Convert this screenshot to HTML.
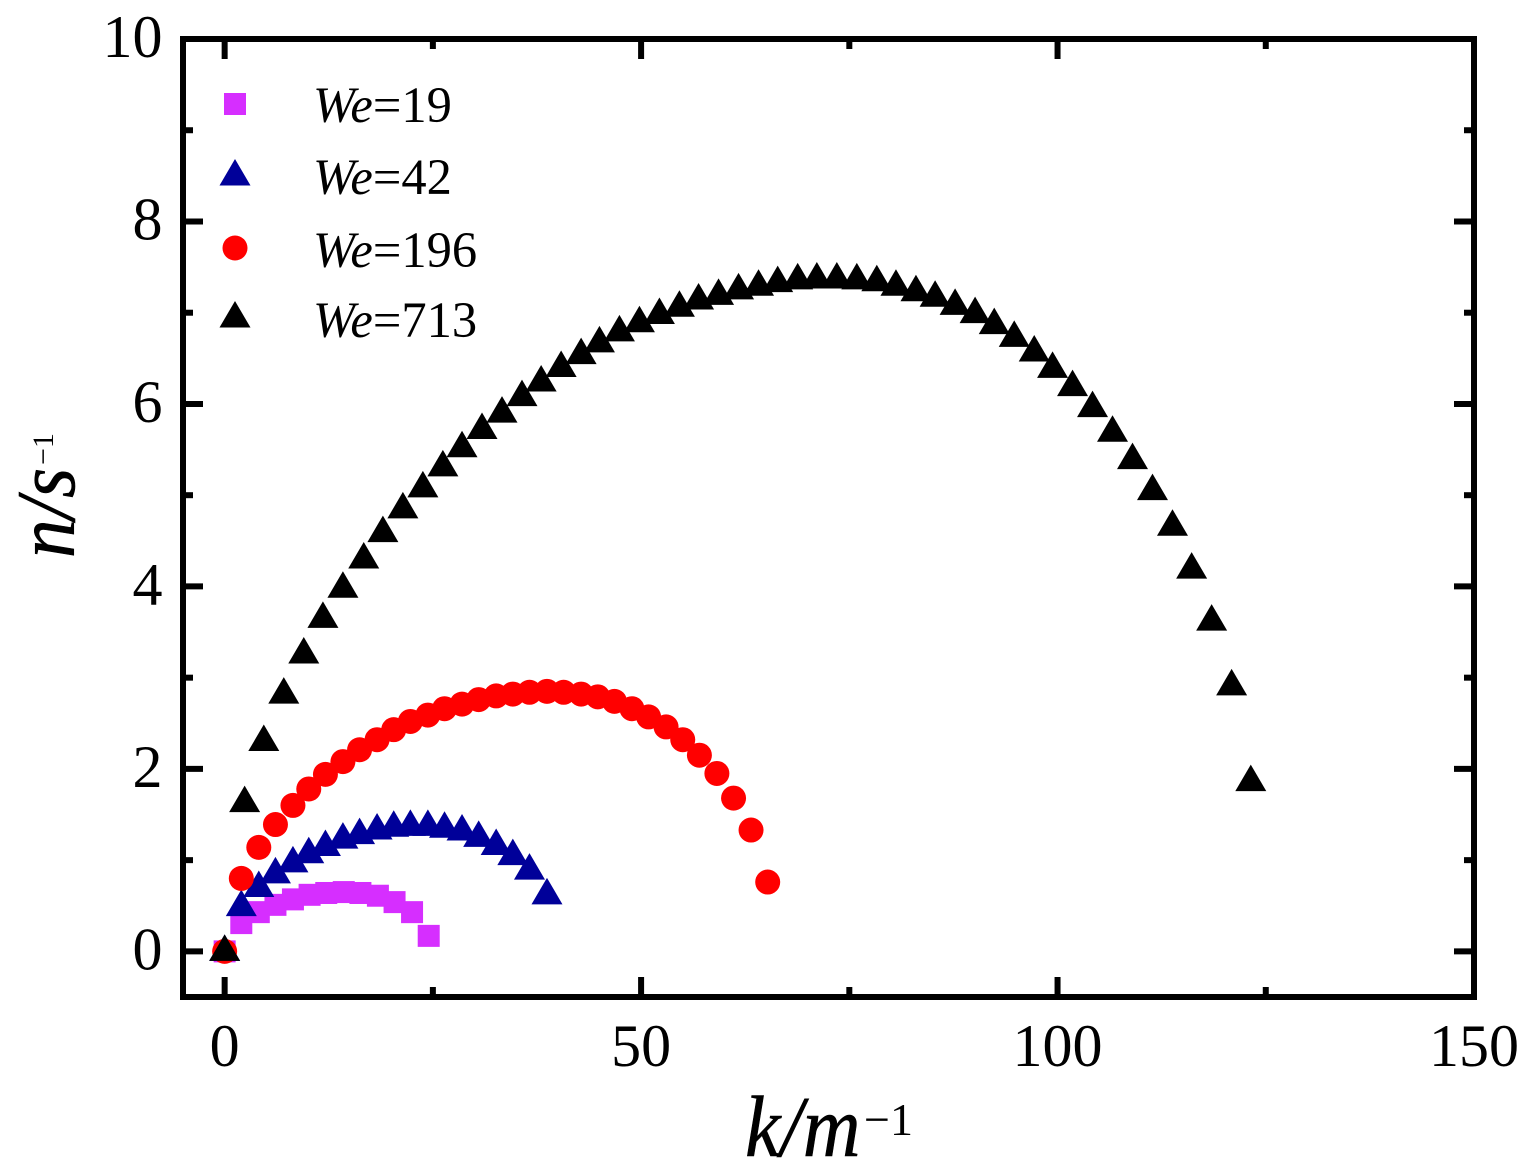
<!DOCTYPE html>
<html>
<head>
<meta charset="utf-8">
<style>
html,body{margin:0;padding:0;background:#fff;}
svg{display:block;font-family:"Liberation Serif","Times New Roman",serif;fill:#000;}
</style>
</head>
<body>
<svg id="chart" xmlns="http://www.w3.org/2000/svg" width="1531" height="1175" viewBox="0 0 1531 1175">
  <rect x="0" y="0" width="1531" height="1175" fill="#fff"/>
  <g id="marks"></g>
  <g id="axes"></g>
  <g id="legend"></g>
  <text transform="translate(745,1156) scale(0.92,1)" font-size="87" font-style="italic" stroke="#000" stroke-width="0.6">k/m</text>
  <text x="864" y="1135" font-size="46">&#8722;1</text>
  <text transform="translate(74,558) rotate(-90) scale(0.92,1)" font-size="84" font-style="italic" stroke="#000" stroke-width="0.6">n/s</text>
  <text transform="translate(53,465) rotate(-90)" font-size="30">&#8722;1</text>
</svg>
<script>
const xTickLabels = [0, 50, 100, 150];
const xMinorTicks = [25, 75, 125];
const yTickLabels = [0, 2, 4, 6, 8, 10];
const yMinorTicks = [1, 3, 5, 7, 9];

const k19 = [0,2.0,4.1,6.1,8.2,10.2,12.2,14.3,16.3,18.4,20.4,22.5,24.5];
const n19 = [0,.31,.43,.51,.57,.62,.64,.65,.64,.61,.54,.43,.17];

const k42 = [0,2.0,4.1,6.1,8.2,10.1,12.1,14.2,16.2,18.3,20.3,22.3,24.4,26.4,28.5,30.5,32.6,34.6,36.6,38.7];
const n42 = [0,.49,.70,.85,.97,1.07,1.15,1.23,1.28,1.33,1.36,1.37,1.37,1.35,1.32,1.25,1.16,1.05,.89,.62];

const k196 = [0,2.0,4.1,6.1,8.2,10.1,12.1,14.2,16.2,18.3,20.3,22.3,24.4,26.4,28.5,30.5,32.6,34.6,36.6,38.7,40.7,42.8,44.8,46.8,48.9,50.9,53.0,55.0,57.0,59.1,61.1,63.2,65.2];
const n196 = [0,.80,1.14,1.39,1.60,1.78,1.94,2.08,2.21,2.32,2.43,2.52,2.59,2.66,2.71,2.76,2.80,2.82,2.84,2.85,2.84,2.82,2.79,2.74,2.66,2.57,2.46,2.32,2.15,1.95,1.68,1.33,.76];

const k713 = [0,2.4,4.7,7.1,9.5,11.8,14.2,16.7,19.0,21.4,23.8,26.2,28.5,30.9,33.3,35.7,38.0,40.4,42.8,45.0,47.4,49.8,52.2,54.6,56.9,59.3,61.7,64.1,66.4,68.8,71.1,73.5,75.9,78.3,80.6,83.0,85.3,87.7,90.1,92.4,94.8,97.2,99.4,101.8,104.2,106.6,109.0,111.4,113.8,116.1,118.5,120.9,123.2];
const n713 = [0,1.63,2.30,2.82,3.26,3.65,3.98,4.30,4.59,4.85,5.08,5.31,5.52,5.72,5.90,6.08,6.24,6.40,6.54,6.67,6.79,6.89,6.98,7.06,7.14,7.19,7.25,7.29,7.33,7.36,7.37,7.37,7.36,7.34,7.29,7.23,7.17,7.08,6.99,6.87,6.73,6.57,6.39,6.19,5.96,5.69,5.39,5.05,4.66,4.19,3.62,2.91,1.86];

const seriesNames = ["We=19", "We=42", "We=196", "We=713"];

const NS = "http://www.w3.org/2000/svg";
const frame = {left: 183, right: 1474, top: 39, bottom: 997};
const xDomain = [-5, 150];
const yDomain = [-0.5, 10];
function xScale(v) {
  return frame.left + (v - xDomain[0]) / (xDomain[1] - xDomain[0]) * (frame.right - frame.left);
}
function yScale(v) {
  return frame.bottom - (v - yDomain[0]) / (yDomain[1] - yDomain[0]) * (frame.bottom - frame.top);
}
function make(tag, attrs, parent) {
  const el = document.createElementNS(NS, tag);
  for (const key in attrs) el.setAttribute(key, attrs[key]);
  parent.appendChild(el);
  return el;
}
function drawMarker(shape, cx, cy, color, parent) {
  if (shape === "square") {
    return make("rect", {x: cx - 11, y: cy - 11, width: 22, height: 22, fill: color}, parent);
  }
  if (shape === "circle") {
    return make("circle", {cx: cx, cy: cy, r: 12.5, fill: color}, parent);
  }
  const pts = [[cx, cy - 17], [cx + 15.5, cy + 9.5], [cx - 15.5, cy + 9.5]];
  return make("polygon", {points: pts.map(p => p.join(",")).join(" "), fill: color}, parent);
}

const marks = document.getElementById("marks");
const axes = document.getElementById("axes");
const legend = document.getElementById("legend");

function drawSeries(name, shape, color, xs, ys) {
  const g = make("g", {}, marks);
  
  
  xs.forEach(function (x, i) {
    const m = drawMarker(shape, xScale(x), yScale(ys[i]), color, g);
    
    
  });
}
drawSeries("we-19", "square", "#d62eff", k19, n19);
drawSeries("we-42", "triangle", "#000099", k42, n42);
drawSeries("we-196", "circle", "#ff0000", k196, n196);
drawSeries("we-713", "triangle", "#000000", k713, n713);

function tickLine(x1, y1, x2, y2, name) {
  const t = make("line", {x1: x1, y1: y1, x2: x2, y2: y2, stroke: "#000", "stroke-width": 6}, axes);
  
  
}
const MAJOR = 20, MINOR = 10;
xTickLabels.forEach(function (v) {
  const x = xScale(v);
  tickLine(x, frame.bottom, x, frame.bottom - MAJOR, "x-major-tick");
  tickLine(x, frame.top, x, frame.top + MAJOR, "x-major-tick-top");
  const t = make("text", {x: x, y: 1066, "text-anchor": "middle", "font-size": 60}, axes);
  t.textContent = v;
  
  
});
xMinorTicks.forEach(function (v) {
  const x = xScale(v);
  tickLine(x, frame.bottom, x, frame.bottom - MINOR, "x-minor-tick");
  tickLine(x, frame.top, x, frame.top + MINOR, "x-minor-tick-top");
});
yTickLabels.forEach(function (v) {
  const y = yScale(v);
  tickLine(frame.left, y, frame.left + MAJOR, y, "y-major-tick");
  tickLine(frame.right, y, frame.right - MAJOR, y, "y-major-tick-right");
  const t = make("text", {x: 162.5, y: y + 18, "text-anchor": "end", "font-size": 60}, axes);
  t.textContent = v;
  
  
});
yMinorTicks.forEach(function (v) {
  const y = yScale(v);
  tickLine(frame.left, y, frame.left + MINOR, y, "y-minor-tick");
  tickLine(frame.right, y, frame.right - MINOR, y, "y-minor-tick-right");
});
const box = make("rect", {x: frame.left, y: frame.top, width: frame.right - frame.left, height: frame.bottom - frame.top, fill: "none", stroke: "#000", "stroke-width": 6}, axes);



const legendShapes = ["square", "triangle", "circle", "triangle"];
const legendColors = ["#d62eff", "#000099", "#ff0000", "#000000"];
const legendMarkerY = [104, 176, 248, 318];
const legendBaselineY = [122, 194, 267, 337];
seriesNames.forEach(function (label, i) {
  const m = drawMarker(legendShapes[i], 235, legendMarkerY[i], legendColors[i], legend);
  
  
  const t = make("text", {x: 313, y: legendBaselineY[i], "font-size": 50.5}, legend);
  
  
  const parts = label.split("=");
  const a = make("tspan", {"font-style": "italic"}, t);
  a.textContent = parts[0];
  const b = make("tspan", {}, t);
  b.textContent = "=" + parts[1];
});
</script>
</body>
</html>
